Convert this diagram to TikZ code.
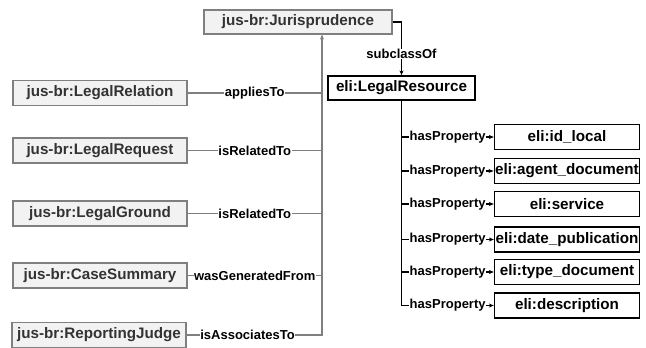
\documentclass[tikz,border=0pt]{standalone}
\usepackage{fontspec}
\setmainfont{Liberation Sans}
\usetikzlibrary{arrows.meta,calc}
\definecolor{boxfill}{HTML}{F2F2F2}
\definecolor{boxgray}{HTML}{7F7F7F}
\definecolor{txtgray}{HTML}{333333}
\begin{document}
\begin{tikzpicture}[x=1pt,y=-1pt,
  grayclass/.style={draw=boxgray, fill=boxfill, line width=1.2pt, text=txtgray,
    font=\fontsize{15.2}{18}\selectfont\bfseries, minimum height=25pt, inner sep=1pt},
  leftclass/.style={grayclass, minimum width=174pt},
  blackclass/.style={draw=black, fill=white, line width=1.3pt, text=black,
    font=\fontsize{15.2}{18}\selectfont\bfseries, minimum height=25pt, inner sep=1pt},
  propbox/.style={blackclass, minimum width=145pt},
  elabel/.style={font=\fontsize{13}{15}\selectfont\bfseries, fill=white, inner sep=0.6pt, text=black},
  grayedge/.style={draw=boxgray, line width=1.1pt},
  blackedge/.style={draw=black, line width=1.1pt},
  tip/.style={-{Stealth[length=5pt,width=4pt]}}
]
\useasboundingbox (0,0) rectangle (646,348);

% classes
\node[grayclass, minimum width=188pt, minimum height=24pt] (jur) at (298,22) {jus-br:Jurisprudence};
\node[blackclass, minimum width=147pt, minimum height=24pt] (lres) at (401.5,88) {eli:LegalResource};

\node[leftclass] (rel) at (100,93) {jus-br:LegalRelation};
\node[leftclass] (req) at (100,150.5) {jus-br:LegalRequest};
\node[leftclass] (gro) at (100,213.5) {jus-br:LegalGround};
\node[leftclass] (cas) at (100,275.5) {jus-br:CaseSummary};
\node[leftclass] (rj) at (99,335) {jus-br:ReportingJudge};

\node[propbox] (p1) at (567,137) {eli:id\_local};
\node[propbox] (p2) at (567,171) {eli:agent\_document};
\node[propbox] (p3) at (567,204) {eli:service};
\node[propbox] (p4) at (567,239.5) {eli:date\_publication};
\node[propbox] (p5) at (567,272) {eli:type\_document};
\node[propbox] (p6) at (567,305.5) {eli:description};

% gray spine
\coordinate (vbot) at (322,335);
\coordinate (vtop) at (jur.south -| vbot);
\draw[grayedge, tip] (rj.east) -- node[elabel, pos=0.45] {isAssociatesTo} (vbot) -- (vtop);
\draw[grayedge] (rel.east) -- node[elabel] {appliesTo} (rel.east -| vbot);
\draw[grayedge] (req.east) -- node[elabel] {isRelatedTo} (req.east -| vbot);
\draw[grayedge] (gro.east) -- node[elabel] {isRelatedTo} (gro.east -| vbot);
\draw[grayedge] (cas.east) -- node[elabel] {wasGeneratedFrom} (cas.east -| vbot);

% subclassOf
\coordinate (sc) at (lres.north |- jur.east);
\draw[blackedge, tip] (jur.east) -- (sc) -- node[elabel, pos=0.6] {subclassOf} (lres.north);

% hasProperty spine
\coordinate (hb) at (lres.south |- p6.west);
\draw[blackedge] (lres.south) -- (hb);
\draw[blackedge, tip] (hb) -- node[elabel] {hasProperty} (p6.west);
\foreach \p in {p1,p2,p3,p4,p5}{
  \draw[blackedge, tip] (lres.south |- \p.west) -- node[elabel] {hasProperty} (\p.west);
}
\end{tikzpicture}
\end{document}
